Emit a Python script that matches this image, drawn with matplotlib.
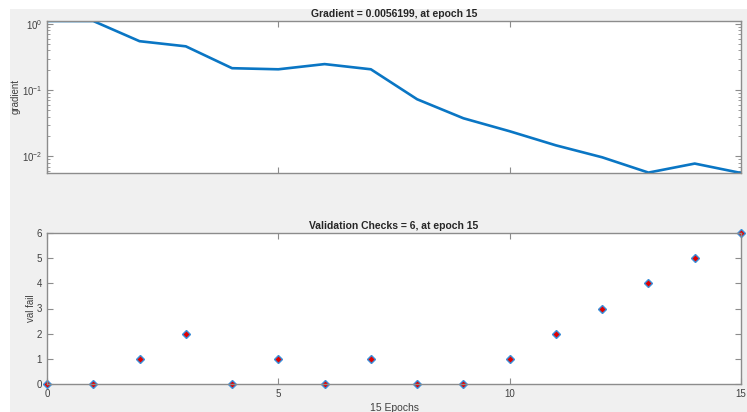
import matplotlib
matplotlib.use('Agg')
from matplotlib import pyplot as plt
from matplotlib.patches import Rectangle
import numpy as np

plt.rcParams['font.family'] = ['Liberation Sans', 'DejaVu Sans']

# data
epochs = list(range(16))
gradient = [1.11, 1.11, 0.55, 0.46, 0.215, 0.207, 0.248, 0.207, 0.073,
            0.0377, 0.024, 0.0147, 0.0097, 0.0057, 0.0078, 0.0056199]
val_fail = [0, 0, 1, 2, 0, 1, 0, 1, 0, 0, 1, 2, 3, 4, 5, 6]
xticks = [0, 5, 10, 15]

W, H = 747, 412
fig = plt.figure(figsize=(W / 100, H / 100), dpi=100)
fig.patch.set_facecolor('white')
fig.add_artist(Rectangle((10 / W, 0), 1 - 10 / W, 1 - 9 / H, transform=fig.transFigure,
                         facecolor='#f0f0f0', edgecolor='none', zorder=-10))

axcol = '#8c8c8c'
txtcol = '#404040'


def box(l, t, r, b):
    return [l / W, 1 - b / H, (r - l) / W, (b - t) / H]


def style(ax):
    for s in ax.spines.values():
        s.set_color(axcol)
        s.set_linewidth(1.0)
    ax.tick_params(which='both', direction='in', top=True, right=True,
                   colors=axcol, labelcolor=txtcol, labelsize=7)
    ax.tick_params(which='major', length=4)
    ax.tick_params(which='minor', length=2)


# top: gradient
ax1 = fig.add_axes(box(47, 21, 741, 173))
ax1.semilogy(epochs, gradient, color='#0a76c4', linewidth=1.9)
ax1.set_xlim(0, 15)
ax1.set_ylim(min(gradient), max(gradient))
ax1.set_xticks(xticks)
ax1.set_xticklabels([])
ax1.set_yticks([1e-2, 1e-1, 1e0])
style(ax1)
ax1.set_ylabel('gradient', fontsize=7, color=txtcol, labelpad=0.5)
ax1.set_title('Gradient = 0.0056199, at epoch 15', fontsize=7.5,
              fontweight='bold', color='#262626', pad=3)

# bottom: validation checks
ax2 = fig.add_axes(box(47, 233, 741, 384))
ax2.plot(epochs, val_fail, linestyle='none', marker='D', markersize=4,
         markerfacecolor='#e00000', markeredgecolor='#3d8fd9', markeredgewidth=1,
         clip_on=False)
ax2.set_xlim(0, 15)
ax2.set_ylim(0, 6)
ax2.set_xticks(xticks)
ax2.set_yticks(range(7))
style(ax2)
ax2.set_ylabel('val fail', fontsize=7, color=txtcol, labelpad=0.5)
ax2.set_xlabel('15 Epochs', fontsize=7.5, color=txtcol, labelpad=3)
ax2.set_title('Validation Checks = 6, at epoch 15', fontsize=7.5,
              fontweight='bold', color='#262626', pad=3)

fig.savefig('out.png', dpi=100)
